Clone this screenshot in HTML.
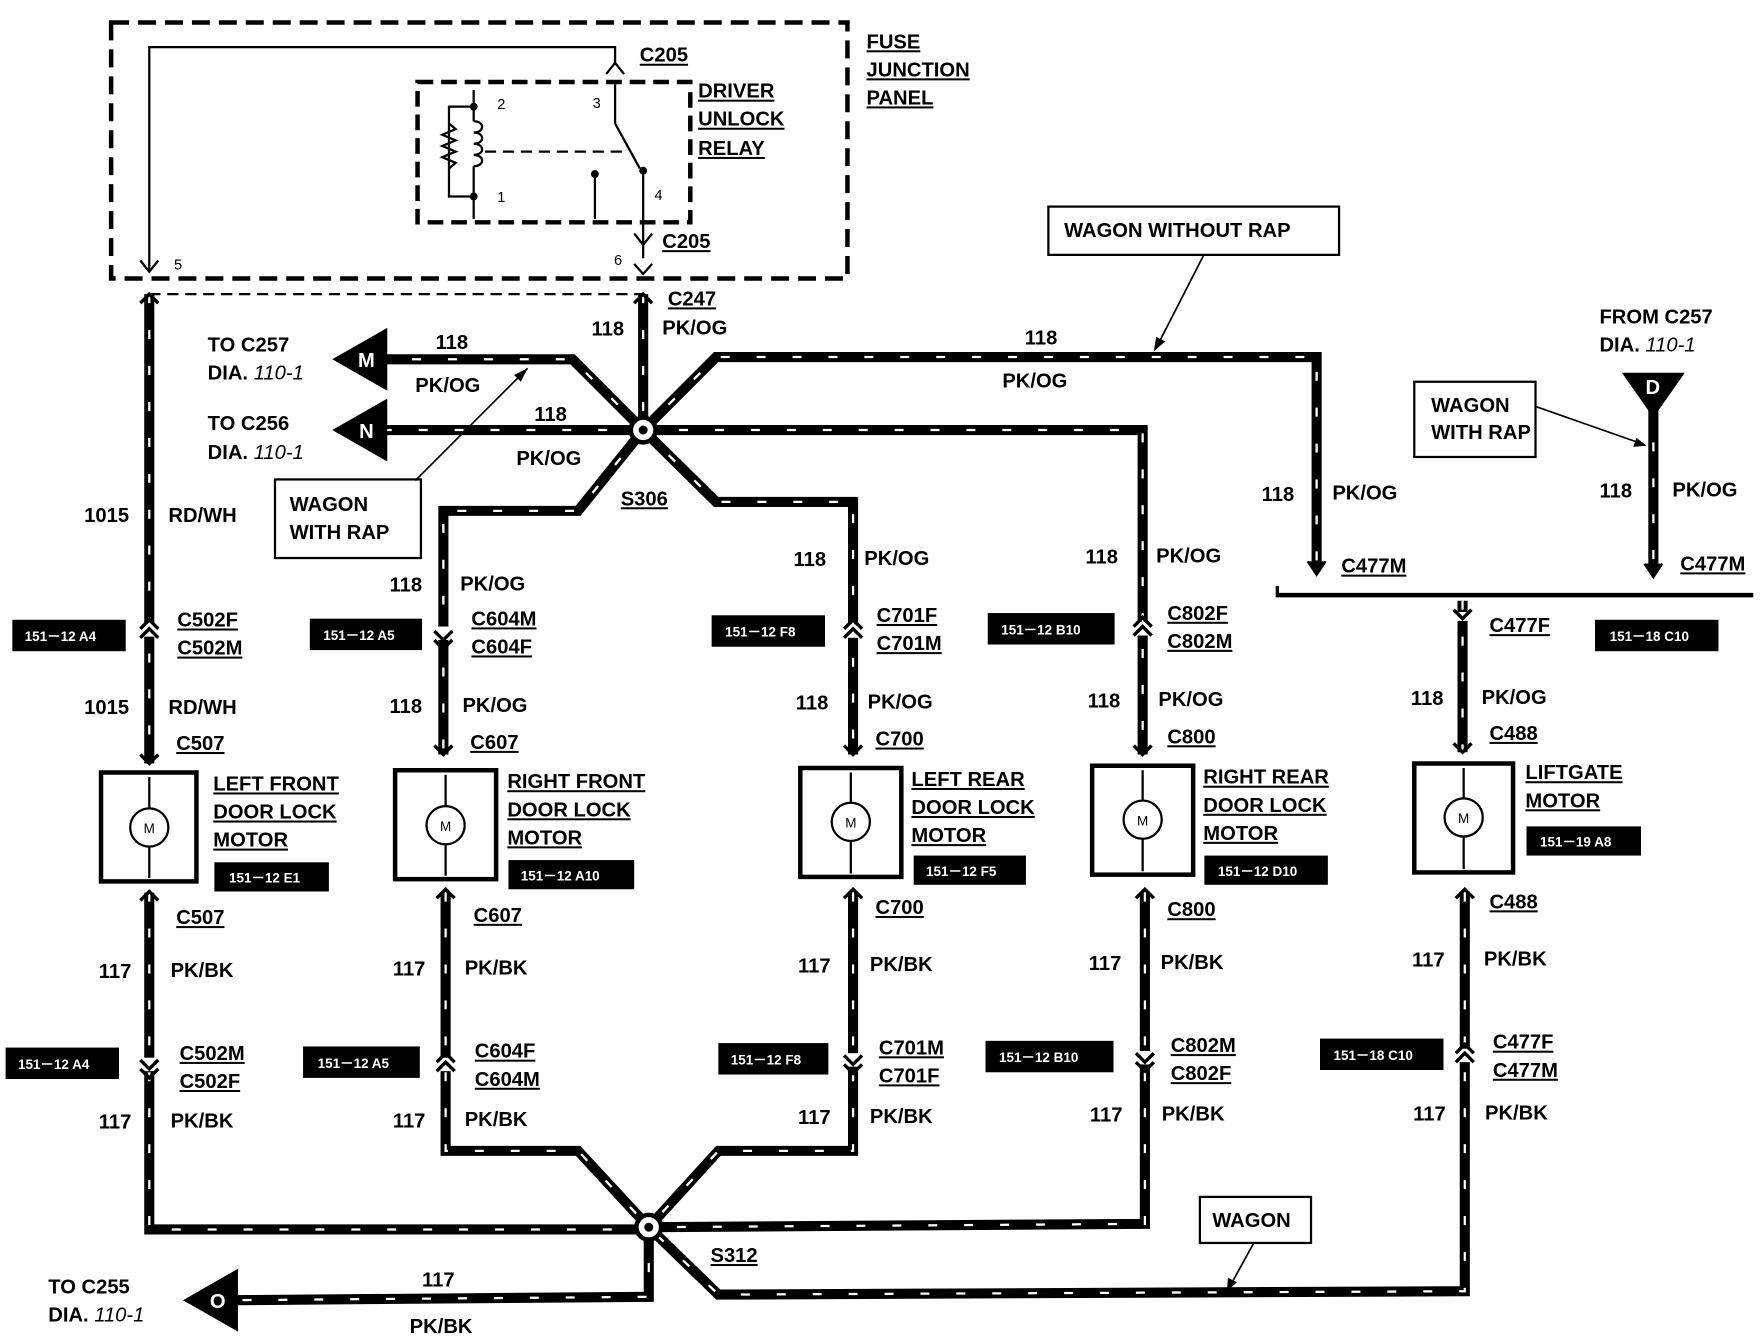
<!DOCTYPE html>
<html><head><meta charset="utf-8"><style>
html,body{margin:0;padding:0;background:#fff;}
svg{display:block;}
text{font-family:"Liberation Sans",sans-serif;font-weight:bold;font-size:18px;fill:#000;}
.u{text-decoration:underline;}
.s{font-size:12px;fill:#fff;}
.i{font-style:italic;font-weight:normal;}
</style></head><body>
<svg width="1760" height="1344" viewBox="0 0 1568 1197" preserveAspectRatio="none" xmlns="http://www.w3.org/2000/svg">
<defs>
<g id="w"></g>
</defs>
<!-- fuse junction box -->
<rect x="99" y="20" width="656" height="228" fill="none" stroke="#000" stroke-width="4" stroke-dasharray="16 8"/>
<rect x="372" y="73" width="243" height="125" fill="none" stroke="#000" stroke-width="4" stroke-dasharray="14 7"/>
<polyline points="133,240 133,42 548,42 548,58" fill="none" stroke="#000" stroke-width="2"/>
<polyline points="540,66 548,56 556,66" fill="none" stroke="#000" stroke-width="2"/>
<line x1="548" y1="75" x2="548" y2="110" stroke="#000" stroke-width="2"/>
<line x1="548" y1="110" x2="570" y2="150" stroke="#000" stroke-width="2"/>
<line x1="573" y1="150" x2="573" y2="230" stroke="#000" stroke-width="2"/>
<polyline points="565,208 573,218 581,208" fill="none" stroke="#000" stroke-width="2"/>
<polyline points="565,235 573,244 581,235" fill="none" stroke="#000" stroke-width="2"/>
<polyline points="125,232 133,242 141,232" fill="none" stroke="#000" stroke-width="2"/>
<polyline points="530,155 530,195" fill="none" stroke="#000" stroke-width="2"/>
<circle cx="530" cy="155" r="3.5"/><circle cx="573" cy="152" r="3.5"/>
<!-- coil -->
<polyline points="422,80 422,95 400,95 400,175 422,175 422,195" fill="none" stroke="#000" stroke-width="2"/>
<path d="M400 110 l6 5 -12 5 12 5 -12 5 12 5 -12 5 12 5 -6 5" fill="none" stroke="#000" stroke-width="2"/>
<path d="M422 108 c10 0 10 10 0 10 c10 0 10 10 0 10 c10 0 10 10 0 10 c10 0 10 10 0 10" fill="none" stroke="#000" stroke-width="2"/>
<line x1="422" y1="95" x2="422" y2="108" stroke="#000" stroke-width="2"/>
<line x1="422" y1="148" x2="422" y2="175" stroke="#000" stroke-width="2"/>
<circle cx="422" cy="95" r="3.5"/><circle cx="422" cy="175" r="3.5"/>
<line x1="432" y1="135" x2="560" y2="135" stroke="#000" stroke-width="2" stroke-dasharray="10 6"/>
<text x="443" y="97" style="font-size:13px;font-weight:normal">2</text>
<text x="443" y="180" style="font-size:13px;font-weight:normal">1</text>
<text x="528" y="96" style="font-size:13px;font-weight:normal">3</text>
<text x="583" y="178" style="font-size:13px;font-weight:normal">4</text>
<text x="155" y="240" style="font-size:13px;font-weight:normal">5</text>
<text x="547" y="236" style="font-size:13px;font-weight:normal">6</text>
<text x="570" y="55" class="u">C205</text>
<text x="590" y="221" class="u">C205</text>
<text x="622" y="87" class="u">DRIVER</text>
<text x="622" y="112" class="u">UNLOCK</text>
<text x="622" y="138" class="u">RELAY</text>
<text x="772" y="43" class="u">FUSE</text>
<text x="772" y="68" class="u">JUNCTION</text>
<text x="772" y="93" class="u">PANEL</text>

<!-- wires -->
<g fill="none" stroke="#000" stroke-width="9" stroke-linejoin="miter">
<polyline points="133,262 133,680"/>
<polyline points="573,262 573,383"/>
<polyline points="573,383 510,320 340,320"/>
<polyline points="573,383 340,383"/>
<polyline points="573,383 638,318 1173,318 1173,505"/>
<polyline points="573,383 1018,383 1018,672"/>
<polyline points="573,383 515,455 395,455 395,672"/>
<polyline points="573,383 638,447 760,447 760,672"/>
<polyline points="1473,362 1473,508"/>
<polyline points="1303,535 1303,670"/>
<polyline points="133,795 133,1095 578,1095"/>
<polyline points="397,795 397,1025 515,1025 578,1093"/>
<polyline points="760,795 760,1025 640,1025 578,1093"/>
<polyline points="1020,795 1020,1090 578,1093"/>
<polyline points="1305,795 1305,1150 640,1153 578,1093"/>
<polyline points="578,1093 578,1155 205,1158"/>
</g>
<g fill="none" stroke="#fff" stroke-width="2" stroke-dasharray="8 24">
<polyline points="133,262 133,680"/>
<polyline points="573,262 573,383"/>
<polyline points="573,383 510,320 340,320"/>
<polyline points="573,383 340,383"/>
<polyline points="573,383 638,318 1173,318 1173,505"/>
<polyline points="573,383 1018,383 1018,672"/>
<polyline points="573,383 515,455 395,455 395,672"/>
<polyline points="573,383 638,447 760,447 760,672"/>
<polyline points="1473,362 1473,508"/>
<polyline points="1303,535 1303,670"/>
<polyline points="133,795 133,1095 578,1095"/>
<polyline points="397,795 397,1025 515,1025 578,1093"/>
<polyline points="760,795 760,1025 640,1025 578,1093"/>
<polyline points="1020,795 1020,1090 578,1093"/>
<polyline points="1305,795 1305,1150 640,1153 578,1093"/>
<polyline points="578,1093 578,1155 205,1158"/>
</g>
<line x1="133" y1="262" x2="573" y2="262" stroke="#000" stroke-width="2" stroke-dasharray="10 6"/>
<!-- connector gaps -->
<g fill="#fff" stroke="none">
<rect x="125" y="555" width="16" height="12"/><rect x="387" y="558" width="16" height="12"/>
<rect x="752" y="556" width="16" height="12"/><rect x="1010" y="554" width="16" height="12"/>
<rect x="1295" y="545" width="16" height="8"/>
<rect x="125" y="942" width="16" height="12"/><rect x="389" y="942" width="16" height="12"/>
<rect x="752" y="938" width="16" height="12"/><rect x="1012" y="936" width="16" height="12"/>
<rect x="1297" y="934" width="16" height="12"/>
</g>
<g fill="none" stroke="#000" stroke-width="3">
<path d="M125 560 l8 -8 8 8 M125 568 l8 -8 8 8"/>
<path d="M387 562 l8 8 8 -8 M387 570 l8 8 8 -8"/>
<path d="M752 560 l8 -8 8 8 M752 568 l8 -8 8 8"/>
<path d="M1010 558 l8 -8 8 8 M1010 566 l8 -8 8 8"/>
<path d="M1295 543 l8 8 8 -8"/>
<path d="M125 944 l8 8 8 -8 M125 952 l8 8 8 -8"/>
<path d="M389 946 l8 -8 8 8 M389 954 l8 -8 8 8"/>
<path d="M752 940 l8 8 8 -8 M752 948 l8 8 8 -8"/>
<path d="M1012 938 l8 8 8 -8 M1012 946 l8 8 8 -8"/>
<path d="M1297 938 l8 -8 8 8 M1297 946 l8 -8 8 8"/>
<path d="M125 672 l8 8 8 -8 M387 664 l8 8 8 -8 M752 664 l8 8 8 -8 M1010 664 l8 8 8 -8 M1295 662 l8 8 8 -8"/>
<path d="M125 802 l8 -8 8 8 M389 800 l8 -8 8 8 M752 800 l8 -8 8 8 M1012 800 l8 -8 8 8 M1297 800 l8 -8 8 8"/>
<path d="M565 270 l8 -8 8 8 M125 270 l8 -8 8 8"/>
</g>
<polyline points="1165,500 1173,512 1181,500" fill="#000" stroke="#000" stroke-width="2"/>
<polyline points="1465,502 1473,514 1481,502" fill="#000" stroke="#000" stroke-width="2"/>
<line x1="1138" y1="530" x2="1562" y2="530" stroke="#000" stroke-width="4"/>
<line x1="1138" y1="522" x2="1138" y2="532" stroke="#000" stroke-width="3"/>
<!-- splices -->
<circle cx="573" cy="383" r="11" fill="#fff" stroke="#000" stroke-width="4"/><circle cx="573" cy="383" r="4"/>
<circle cx="578" cy="1093" r="11" fill="#fff" stroke="#000" stroke-width="4"/><circle cx="578" cy="1093" r="4"/>
<!-- arrows -->
<polygon points="296,320 345,292 345,348" fill="#000"/><text x="319" y="327" style="fill:#fff">M</text>
<polygon points="296,383 345,355 345,411" fill="#000"/><text x="320" y="390" style="fill:#fff">N</text>
<polygon points="163,1158 212,1130 212,1186" fill="#000"/><text x="187" y="1165" style="fill:#fff">O</text>
<polygon points="1445,332 1501,332 1473,372" fill="#000"/><text x="1466" y="351" style="fill:#fff">D</text>
<!-- motors -->
<g fill="none" stroke="#000">
<rect x="90" y="688" width="85" height="97" stroke-width="4"/>
<rect x="352" y="686" width="90" height="97" stroke-width="4"/>
<rect x="713" y="684" width="90" height="97" stroke-width="4"/>
<rect x="973" y="682" width="90" height="97" stroke-width="4"/>
<rect x="1260" y="680" width="88" height="97" stroke-width="4"/>
</g>
<g stroke="#000" stroke-width="2" fill="#fff">
<line x1="133" y1="692" x2="133" y2="782"/><circle cx="133" cy="737" r="17"/>
<line x1="397" y1="690" x2="397" y2="780"/><circle cx="397" cy="735" r="17"/>
<line x1="758" y1="688" x2="758" y2="778"/><circle cx="758" cy="732" r="17"/>
<line x1="1018" y1="686" x2="1018" y2="776"/><circle cx="1018" cy="730" r="17"/>
<line x1="1304" y1="684" x2="1304" y2="774"/><circle cx="1304" cy="728" r="17"/>
</g>
<g style="font-size:12px;font-weight:normal">
<text x="128" y="742" style="font-size:12px;font-weight:normal">M</text>
<text x="392" y="740" style="font-size:12px;font-weight:normal">M</text>
<text x="753" y="737" style="font-size:12px;font-weight:normal">M</text>
<text x="1013" y="735" style="font-size:12px;font-weight:normal">M</text>
<text x="1299" y="733" style="font-size:12px;font-weight:normal">M</text>
</g>
<!-- label boxes -->
<rect x="245" y="427" width="130" height="70" fill="#fff" stroke="#000" stroke-width="2"/>
<text x="258" y="455">WAGON</text><text x="258" y="480">WITH RAP</text>
<line x1="370" y1="428" x2="470" y2="328" stroke="#000" stroke-width="1.5"/>
<polygon points="470,328 458,334 464,340" fill="#000"/>
<rect x="934" y="184" width="259" height="43" fill="#fff" stroke="#000" stroke-width="2"/>
<text x="948" y="211">WAGON WITHOUT RAP</text>
<line x1="1072" y1="228" x2="1030" y2="310" stroke="#000" stroke-width="1.5"/>
<polygon points="1028,313 1030,300 1038,304" fill="#000"/>
<rect x="1260" y="340" width="108" height="67" fill="#fff" stroke="#000" stroke-width="2"/>
<text x="1275" y="367">WAGON</text><text x="1275" y="391">WITH RAP</text>
<line x1="1368" y1="362" x2="1465" y2="396" stroke="#000" stroke-width="1.5"/>
<polygon points="1467,397 1455,398 1458,390" fill="#000"/>
<rect x="1069" y="1066" width="99" height="41" fill="#fff" stroke="#000" stroke-width="2"/>
<text x="1080" y="1093">WAGON</text>
<line x1="1117" y1="1107" x2="1095" y2="1147" stroke="#000" stroke-width="1.5"/>
<polygon points="1093,1150 1094,1138 1102,1142" fill="#000"/>
<!-- black ref boxes -->
<g fill="#000">
<rect x="11" y="552" width="101" height="28"/><rect x="276" y="551" width="100" height="28"/>
<rect x="634" y="548" width="101" height="28"/><rect x="880" y="546" width="113" height="28"/>
<rect x="1421" y="552" width="110" height="28"/>
<rect x="191" y="768" width="102" height="26"/><rect x="453" y="766" width="112" height="26"/>
<rect x="814" y="762" width="100" height="26"/><rect x="1073" y="762" width="110" height="26"/>
<rect x="1360" y="736" width="102" height="26"/>
<rect x="5" y="933" width="101" height="28"/><rect x="270" y="932" width="104" height="28"/>
<rect x="640" y="929" width="98" height="28"/><rect x="878" y="927" width="114" height="28"/>
<rect x="1176" y="925" width="110" height="28"/>
</g>
<text class="s" x="22" y="571">151－12 A4</text><text class="s" x="288" y="570">151－12 A5</text>
<text class="s" x="646" y="567">151－12 F8</text><text class="s" x="892" y="565">151－12 B10</text>
<text class="s" x="1434" y="571">151－18 C10</text>
<text class="s" x="204" y="786">151－12 E1</text><text class="s" x="464" y="784">151－12 A10</text>
<text class="s" x="825" y="780">151－12 F5</text><text class="s" x="1085" y="780">151－12 D10</text>
<text class="s" x="1372" y="754">151－19 A8</text>
<text class="s" x="16" y="952">151－12 A4</text><text class="s" x="283" y="951">151－12 A5</text>
<text class="s" x="651" y="948">151－12 F8</text><text class="s" x="890" y="946">151－12 B10</text>
<text class="s" x="1188" y="944">151－18 C10</text>
<!-- text labels -->
<text x="185" y="313">TO C257</text><text x="185" y="338">DIA. <tspan class="i">110-1</tspan></text>
<text x="185" y="383">TO C256</text><text x="185" y="409">DIA. <tspan class="i">110-1</tspan></text>
<text x="43" y="1152">TO C255</text><text x="43" y="1177">DIA. <tspan class="i">110-1</tspan></text>
<text x="1425" y="288">FROM C257</text><text x="1425" y="313">DIA. <tspan class="i">110-1</tspan></text>
<text x="388" y="311">118</text><text x="370" y="349">PK/OG</text>
<text x="476" y="375">118</text><text x="460" y="414">PK/OG</text>
<text x="527" y="299">118</text>
<text x="595" y="272" class="u">C247</text><text x="590" y="298">PK/OG</text>
<text x="913" y="307">118</text><text x="893" y="345">PK/OG</text>
<text x="553" y="450" class="u">S306</text>
<text x="633" y="1124" class="u">S312</text>
<text x="75" y="465">1015</text><text x="150" y="465">RD/WH</text>
<text x="158" y="558" class="u">C502F</text><text x="158" y="583" class="u">C502M</text>
<text x="75" y="636">1015</text><text x="150" y="636">RD/WH</text>
<text x="157" y="668" class="u">C507</text>
<text x="190" y="704" class="u">LEFT FRONT</text><text x="190" y="729" class="u">DOOR LOCK</text><text x="190" y="754" class="u">MOTOR</text>
<text x="157" y="823" class="u">C507</text>
<text x="88" y="871">117</text><text x="152" y="870">PK/BK</text>
<text x="160" y="944" class="u">C502M</text><text x="160" y="969" class="u">C502F</text>
<text x="88" y="1005">117</text><text x="152" y="1004">PK/BK</text>
<text x="347" y="527">118</text><text x="410" y="526">PK/OG</text>
<text x="420" y="557" class="u">C604M</text><text x="420" y="582" class="u">C604F</text>
<text x="347" y="635">118</text><text x="412" y="634">PK/OG</text>
<text x="419" y="667" class="u">C607</text>
<text x="452" y="702" class="u">RIGHT FRONT</text><text x="452" y="727" class="u">DOOR LOCK</text><text x="452" y="752" class="u">MOTOR</text>
<text x="422" y="821" class="u">C607</text>
<text x="350" y="869">117</text><text x="414" y="868">PK/BK</text>
<text x="423" y="942" class="u">C604F</text><text x="423" y="967" class="u">C604M</text>
<text x="350" y="1004">117</text><text x="414" y="1003">PK/BK</text>
<text x="707" y="504">118</text><text x="770" y="503">PK/OG</text>
<text x="781" y="554" class="u">C701F</text><text x="781" y="579" class="u">C701M</text>
<text x="709" y="632">118</text><text x="773" y="631">PK/OG</text>
<text x="780" y="664" class="u">C700</text>
<text x="812" y="700" class="u">LEFT REAR</text><text x="812" y="725" class="u">DOOR LOCK</text><text x="812" y="750" class="u">MOTOR</text>
<text x="780" y="814" class="u">C700</text>
<text x="711" y="866">117</text><text x="775" y="865">PK/BK</text>
<text x="783" y="939" class="u">C701M</text><text x="783" y="964" class="u">C701F</text>
<text x="711" y="1001">117</text><text x="775" y="1000">PK/BK</text>
<text x="967" y="502">118</text><text x="1030" y="501">PK/OG</text>
<text x="1040" y="552" class="u">C802F</text><text x="1040" y="577" class="u">C802M</text>
<text x="969" y="630">118</text><text x="1032" y="629">PK/OG</text>
<text x="1040" y="662" class="u">C800</text>
<text x="1072" y="698" class="u">RIGHT REAR</text><text x="1072" y="723" class="u">DOOR LOCK</text><text x="1072" y="748" class="u">MOTOR</text>
<text x="1040" y="816" class="u">C800</text>
<text x="970" y="864">117</text><text x="1034" y="863">PK/BK</text>
<text x="1043" y="937" class="u">C802M</text><text x="1043" y="962" class="u">C802F</text>
<text x="971" y="999">117</text><text x="1035" y="998">PK/BK</text>
<text x="1124" y="446">118</text><text x="1187" y="445">PK/OG</text>
<text x="1195" y="510" class="u">C477M</text>
<text x="1425" y="443">118</text><text x="1490" y="442">PK/OG</text>
<text x="1497" y="508" class="u">C477M</text>
<text x="1327" y="563" class="u">C477F</text>
<text x="1257" y="628">118</text><text x="1320" y="627">PK/OG</text>
<text x="1327" y="659" class="u">C488</text>
<text x="1359" y="694" class="u">LIFTGATE</text><text x="1359" y="719" class="u">MOTOR</text>
<text x="1327" y="809" class="u">C488</text>
<text x="1258" y="861">117</text><text x="1322" y="860">PK/BK</text>
<text x="1330" y="934" class="u">C477F</text><text x="1330" y="959" class="u">C477M</text>
<text x="1259" y="998">117</text><text x="1323" y="997">PK/BK</text>
<text x="376" y="1146">117</text><text x="365" y="1187">PK/BK</text>
</svg>
</body></html>
